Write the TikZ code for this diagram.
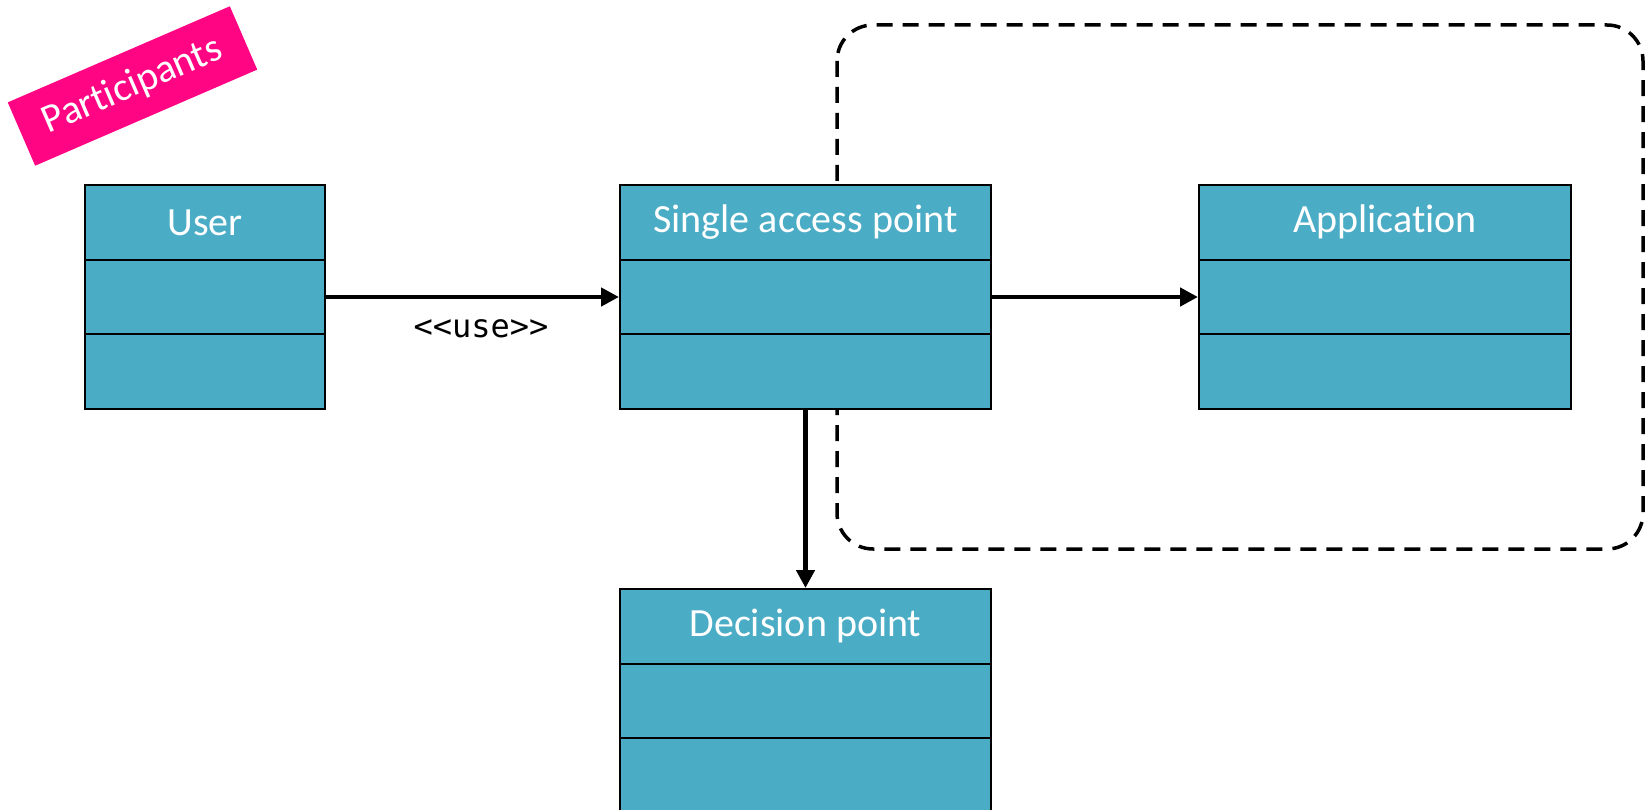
\documentclass[tikz,border=0pt]{standalone}
\usepackage{fontspec}
\setmainfont{Carlito}[Ligatures=NoCommon]
\newfontfamily\codefont{DejaVu Sans Mono}
\usetikzlibrary{arrows.meta}
\definecolor{classfill}{HTML}{4BACC6}
\definecolor{tagpink}{HTML}{FF0483}

\begin{document}
\begin{tikzpicture}[x=1pt,y=-1pt,
  part/.style={draw=black, line width=2pt, fill=classfill, inner sep=0pt,
    anchor=north west, minimum height=74.67pt, text=white,
    font=\fontsize{40}{46}\selectfont},
  flow/.style={draw=black, line width=4.5pt,
    -{Triangle[length=18pt,width=18pt]}},
  group/.style={draw=black, line width=3.5pt, dash pattern=on 16pt off 10pt,
    rounded corners=36pt},
  tag/.style={fill=tagpink, text=white, inner sep=0pt,
    minimum width=242pt, minimum height=69pt, rotate=23.4,
    font=\fontsize{40}{46}\selectfont},
  stereo/.style={text=black, inner sep=0pt,
    font=\codefont\fontsize{32}{36}\selectfont}]

\useasboundingbox (0,0) rectangle (1646,810);
\clip (0,0) rectangle (1646,810);

% grouping frame, drawn first so the classes sit on top of it
\draw[group] (837,25) rectangle (1643,549);

% UML classes: title, attributes and operations compartments
\newcommand\umlclass[5]{% name, left, top, width, title
  \node[part, minimum width=#4pt] (#1) at (#2,#3) {\raisebox{-2.5pt}{#5}};
  \node[part, minimum width=#4pt] (#1-a) at (#2,#3+74.67) {};
  \node[part, minimum width=#4pt] (#1-o) at (#2,#3+149.33) {};
}
\umlclass{user}{84}{184}{240}{User}
\umlclass{sap}{619}{184}{371}{Single access point}
\umlclass{app}{1198}{184}{372}{Application}
\umlclass{dec}{619}{588}{371}{Decision point}

% connectors
\draw[flow] (user-a.east) -- (sap-a.west);
\node[stereo] (uselbl) at (481,329) {<<use>>};
\draw[flow] (sap-a.east) -- (app-a.west);
\draw[flow] (sap-o.south) -- (dec.north);

% rotated title tag
\node[tag] (title) at (132.5,86) {Participants};
\end{tikzpicture}
\end{document}
